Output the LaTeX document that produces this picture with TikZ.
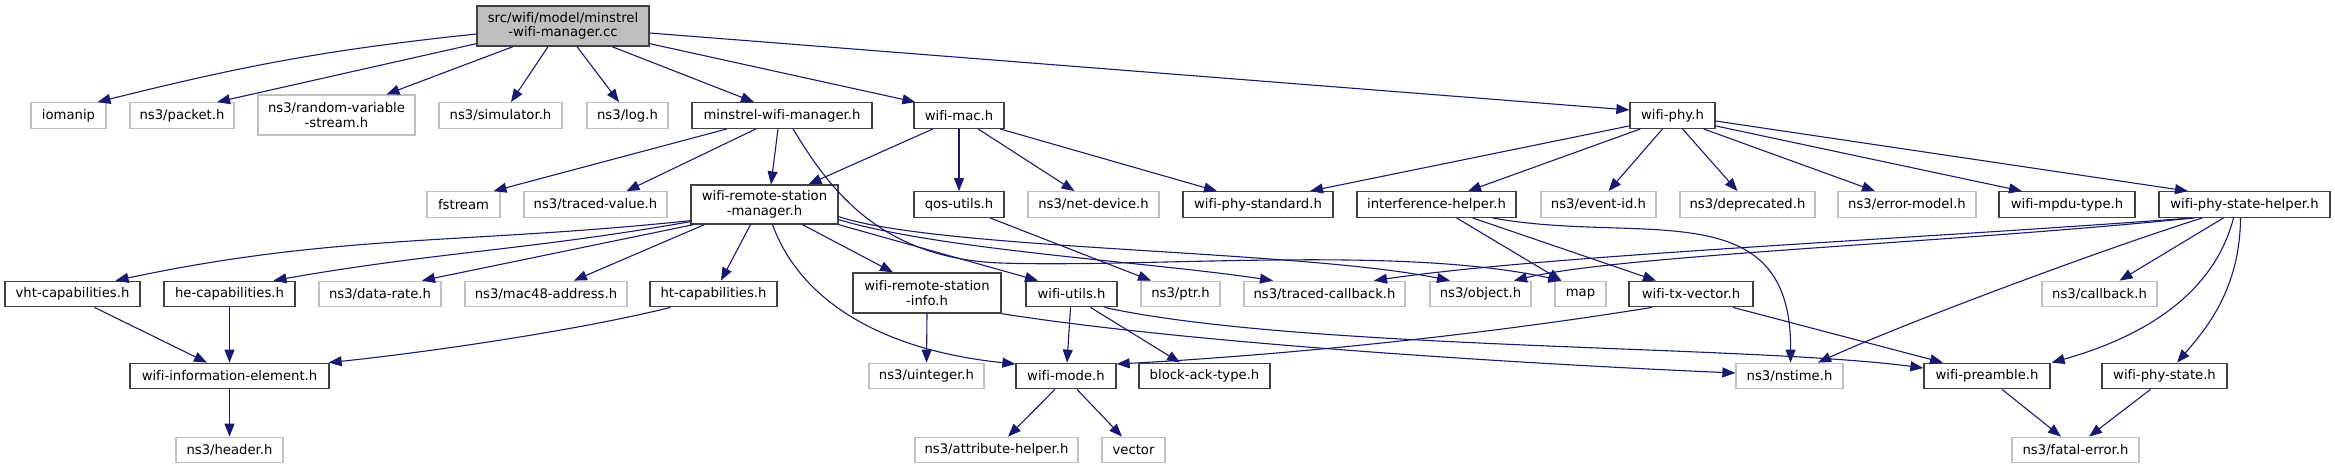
\documentclass[tikz,border=0pt]{standalone}
\usepackage{fontspec}
\setmainfont{DejaVu Sans}[Ligatures=NoCommon]
\usetikzlibrary{arrows.meta}
\definecolor{edgec}{HTML}{191970}
\definecolor{docc}{HTML}{404040}
\definecolor{extc}{HTML}{BFBFBF}
\definecolor{rootfill}{HTML}{BFBFBF}
\begin{document}
\begin{tikzpicture}[x=1pt,y=1pt,
  box/.style={draw=docc, line width=1.3pt, fill=white, inner sep=0pt, minimum height=25.5pt, align=center, font={\fontsize{13.2}{14.5}\selectfont}},
  ext/.style={box, draw=extc},
  e/.style={draw=edgec, line width=1.1pt, -{Triangle[length=13pt,width=10pt]}}
]
\useasboundingbox (0,0) rectangle (2335,-469);
% row 0
\node[box, fill=rootfill, minimum width=172pt, minimum height=40pt] (root) at (563,-26) {src/wifi/model/minstrel\\-wifi-manager.cc};
% row 1
\node[ext, minimum width=75pt] (iomanip) at (68.5,-115.5) {iomanip};
\node[ext, minimum width=104pt] (packet) at (182,-115.5) {ns3/packet.h};
\node[ext, minimum width=157pt, minimum height=40pt] (random) at (336.5,-115) {ns3/random-variable\\-stream.h};
\node[ext, minimum width=123pt] (simulator) at (500.5,-115.5) {ns3/simulator.h};
\node[ext, minimum width=81pt] (log) at (627.5,-115.5) {ns3/log.h};
\node[box, minimum width=180pt] (minstrel) at (782,-115.5) {minstrel-wifi-manager.h};
\node[box, minimum width=90pt] (wifimac) at (959,-115.5) {wifi-mac.h};
\node[box, minimum width=85pt] (wifiphy) at (1672.5,-115.5) {wifi-phy.h};
% row 2
\node[ext, minimum width=73pt] (fstream) at (463.5,-204.5) {fstream};
\node[ext, minimum width=143pt] (tracedvalue) at (595.5,-204.5) {ns3/traced-value.h};
\node[box, minimum width=147pt, minimum height=39pt] (wrsm) at (764.5,-204.5) {wifi-remote-station\\-manager.h};
\node[box, minimum width=90pt] (qos) at (959,-204.5) {qos-utils.h};
\node[ext, minimum width=131pt] (netdev) at (1093.5,-204.5) {ns3/net-device.h};
\node[box, minimum width=150pt] (phystd) at (1258,-204.5) {wifi-phy-standard.h};
\node[box, minimum width=159pt] (interf) at (1436.5,-204.5) {interference-helper.h};
\node[ext, minimum width=115pt] (eventid) at (1598.5,-204.5) {ns3/event-id.h};
\node[ext, minimum width=135pt] (deprecated) at (1747.5,-204.5) {ns3/deprecated.h};
\node[ext, minimum width=138pt] (errormodel) at (1907,-204.5) {ns3/error-model.h};
\node[box, minimum width=136pt] (mpdu) at (2067,-204.5) {wifi-mpdu-type.h};
\node[box, minimum width=171pt] (psh) at (2244.5,-204.5) {wifi-phy-state-helper.h};
% row 3
\node[box, minimum width=135pt] (vht) at (72.5,-294) {vht-capabilities.h};
\node[box, minimum width=131pt] (he) at (229.5,-294) {he-capabilities.h};
\node[ext, minimum width=122pt] (datarate) at (380,-294) {ns3/data-rate.h};
\node[ext, minimum width=162pt] (mac48) at (546,-294) {ns3/mac48-address.h};
\node[box, minimum width=127pt] (ht) at (713.5,-294) {ht-capabilities.h};
\node[box, minimum width=148pt, minimum height=40pt] (wrsi) at (927,-293) {wifi-remote-station\\-info.h};
\node[box, minimum width=91pt] (wutils) at (1071.5,-294) {wifi-utils.h};
\node[ext, minimum width=79pt] (ptr) at (1180.5,-294) {ns3/ptr.h};
\node[ext, minimum width=161pt] (tcb) at (1324.5,-294) {ns3/traced-callback.h};
\node[ext, minimum width=101pt] (object) at (1480.5,-294) {ns3/object.h};
\node[ext, minimum width=51pt] (map) at (1580.5,-294) {map};
\node[box, minimum width=124pt] (txvec) at (1691,-294) {wifi-tx-vector.h};
\node[ext, minimum width=115pt] (callback) at (2099.5,-294) {ns3/callback.h};
% row 4
\node[box, minimum width=199pt] (wie) at (229.5,-376) {wifi-information-element.h};
\node[ext, minimum width=115pt] (uint) at (926.5,-376) {ns3/uinteger.h};
\node[box, minimum width=100pt] (wmode) at (1066,-376) {wifi-mode.h};
\node[box, minimum width=131pt] (bat) at (1204.5,-376) {block-ack-type.h};
\node[ext, minimum width=107pt] (nstime) at (1789.5,-376) {ns3/nstime.h};
\node[box, minimum width=126pt] (preamble) at (1987,-376) {wifi-preamble.h};
\node[box, minimum width=125pt] (pstate) at (2164.5,-376) {wifi-phy-state.h};
% row 5
\node[ext, minimum width=107pt] (header) at (229.5,-450) {ns3/header.h};
\node[ext, minimum width=163pt] (attr) at (996.5,-450) {ns3/attribute-helper.h};
\node[ext, minimum width=63pt] (vector) at (1133.5,-450) {vector};
\node[ext, minimum width=127pt] (fatal) at (2075.5,-450) {ns3/fatal-error.h};
% root edges
\draw[e] ([yshift=-8pt]root.west) to[out=186,in=14] ([xshift=29pt]iomanip.north);
\draw[e] ([yshift=3pt]root.south west) -- ([xshift=35pt]packet.north);
\draw[e] ([xshift=-50pt]root.south) -- ([xshift=50pt]random.north);
\draw[e] ([xshift=-15pt]root.south) -- ([xshift=10.5pt]simulator.north);
\draw[e] ([xshift=14pt]root.south) -- ([xshift=-8.5pt]log.north);
\draw[e] ([xshift=49pt]root.south) -- ([xshift=-28pt]minstrel.north);
\draw[e] ([yshift=3pt]root.south east) -- ([xshift=2pt]wifimac.north west);
\draw[e] ([yshift=-7pt]root.east) -- ([yshift=5.5pt]wifiphy.west);
% minstrel
\draw[e] ([xshift=-55pt]minstrel.south) -- ([xshift=30pt]fstream.north);
\draw[e] ([xshift=-26pt]minstrel.south) -- ([xshift=31pt]tracedvalue.north);
\draw[e] ([xshift=-4pt]minstrel.south) -- ([xshift=6.5pt]wrsm.north);
\draw[e] ([xshift=11pt]minstrel.south) .. controls (830,-190) and (880,-258) .. (1000,-263) .. controls (1150,-268) and (1400,-245) .. ([xshift=7pt]map.north west);
% wifimac
\draw[e] ([xshift=-26pt]wifimac.south) -- ([xshift=44pt]wrsm.north);
\draw[e] (wifimac.south) -- (qos.north);
\draw[e] ([xshift=19pt]wifimac.south) -- ([xshift=-19pt]netdev.north);
\draw[e] ([xshift=41pt]wifimac.south) -- ([xshift=-41pt]phystd.north);
% wifiphy
\draw[e] ([yshift=3pt]wifiphy.south west) -- ([xshift=52pt]phystd.north);
\draw[e] ([xshift=-32pt]wifiphy.south) -- ([xshift=31.5pt]interf.north);
\draw[e] ([xshift=-10pt]wifiphy.south) -- ([xshift=10pt]eventid.north);
\draw[e] ([xshift=10pt]wifiphy.south) -- ([xshift=-10pt]deprecated.north);
\draw[e] ([xshift=31pt]wifiphy.south) -- ([xshift=-32pt]errormodel.north);
\draw[e] ([yshift=3pt]wifiphy.south east) -- ([xshift=-45pt]mpdu.north);
\draw[e] ([yshift=-5.5pt]wifiphy.east) -- ([xshift=-56.5pt]psh.north);
% wrsm
\draw[e] ([yshift=4pt]wrsm.south west) to[out=186,in=12] ([xshift=43pt]vht.north);
\draw[e] ([yshift=3pt]wrsm.south west) to[out=190,in=10] ([xshift=44pt]he.north);
\draw[e] ([xshift=3pt]wrsm.south west) -- ([xshift=42pt]datarate.north);
\draw[e] ([xshift=14pt]wrsm.south west) -- ([xshift=28pt]mac48.north);
\draw[e] ([xshift=-14pt]wrsm.south) -- ([xshift=7.5pt]ht.north);
\draw[e] ([xshift=8pt]wrsm.south) .. controls (800,-300) and (880,-350) .. ([yshift=12pt]wmode.west);
\draw[e] ([xshift=38pt]wrsm.south) -- ([xshift=-34pt]wrsi.north);
\draw[e] (wrsm.south east) -- ([xshift=-33.5pt]wutils.north);
\draw[e] ([yshift=5pt]wrsm.south east) .. controls (940,-250) and (1150,-262) .. ([xshift=-51.5pt]tcb.north);
\draw[e] ([yshift=8pt]wrsm.south east) .. controls (940,-250) and (1300,-250) .. ([xshift=-30.5pt]object.north);
% qos
\draw[e] ([xshift=31pt]qos.south) -- ([xshift=-29.5pt]ptr.north);
% interference helper
\draw[e] ([xshift=20pt]interf.south) -- ([xshift=7pt]map.north west);
\draw[e] ([xshift=36pt]interf.south) -- ([xshift=-35pt]txvec.north);
\draw[e] ([xshift=56pt]interf.south) .. controls (1640,-245) and (1792,-190) .. ([xshift=1pt]nstime.north);
% phy state helper
\draw[e] ([xshift=-52pt]psh.south) .. controls (1900,-240) and (1550,-255) .. ([xshift=49.5pt]tcb.north);
\draw[e] ([xshift=-50pt]psh.south) .. controls (1950,-243) and (1620,-255) .. ([xshift=33.5pt]object.north);
\draw[e] ([xshift=-42pt]psh.south) .. controls (2100,-250) and (1900,-325) .. ([xshift=28.5pt]nstime.north);
\draw[e] ([xshift=-21pt]psh.south) -- ([xshift=20pt]callback.north);
\draw[e] ([xshift=-11pt]psh.south) .. controls (2215,-290) and (2150,-335) .. ([xshift=1pt]preamble.north east);
\draw[e] ([xshift=-4pt]psh.south) .. controls (2240,-290) and (2205,-330) .. ([xshift=12.5pt]pstate.north);
% tx vector
\draw[e] ([xshift=-39pt]txvec.south) .. controls (1450,-340) and (1250,-357) .. ([yshift=12pt]wmode.east);
\draw[e] ([xshift=42pt]txvec.south) -- ([xshift=-44pt]preamble.north);
% wifi utils
\draw[e] ([xshift=-1pt]wutils.south) -- ([xshift=1pt]wmode.north);
\draw[e] ([xshift=19pt]wutils.south) -- ([xshift=-24.5pt]bat.north);
\draw[e] ([xshift=33pt]wutils.south) .. controls (1300,-350) and (1750,-345) .. ([yshift=8pt]preamble.west);
% station info
\draw[e] (wrsi.south) -- (uint.north);
\draw[e] (wrsi.south east) .. controls (1200,-345) and (1550,-365) .. ([yshift=3pt]nstime.west);
% wifi mode
\draw[e] ([xshift=-11pt]wmode.south) -- ([xshift=11.5pt]attr.north);
\draw[e] ([xshift=11pt]wmode.south) -- ([xshift=-11.5pt]vector.north);
% capabilities
\draw[e] ([xshift=22pt]vht.south) -- ([xshift=-22.5pt]wie.north);
\draw[e] (he.south) -- (wie.north);
\draw[e] ([xshift=-43pt]ht.south) .. controls (580,-330) and (430,-352) .. ([xshift=-1pt]wie.north east);
\draw[e] (wie.south) -- (header.north);
% fatal error
\draw[e] ([xshift=15pt]preamble.south) -- ([xshift=-14.5pt]fatal.north);
\draw[e] ([xshift=-14pt]pstate.south) -- ([xshift=13.5pt]fatal.north);
\end{tikzpicture}
\end{document}
